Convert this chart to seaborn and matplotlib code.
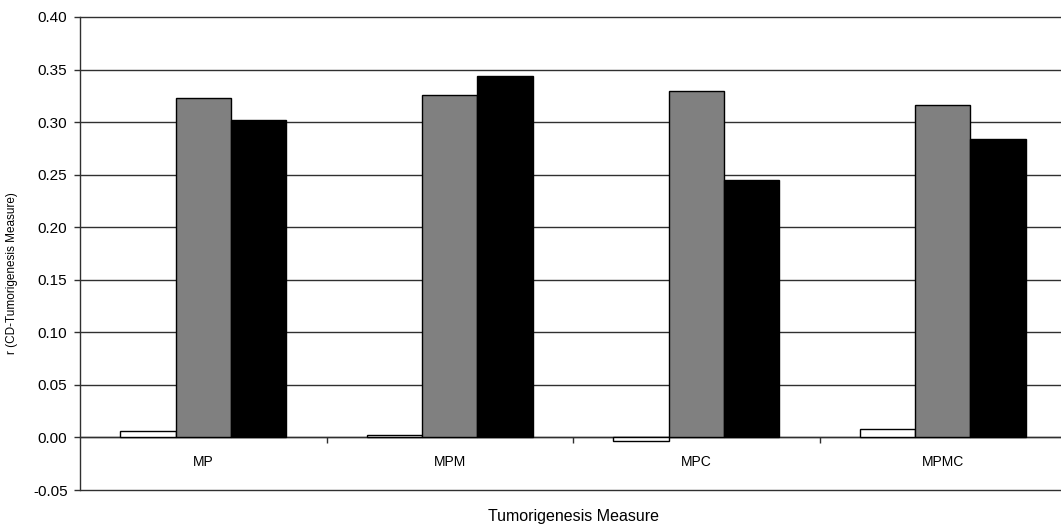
import matplotlib
matplotlib.use("Agg")
import matplotlib.pyplot as plt
import numpy as np
import pandas as pd
import seaborn as sns

# Correlation of CD with each tumorigenesis measure, three series per measure
measures = ["MP", "MPM", "MPC", "MPMC"]
series_names = ["Series 1", "Series 2", "Series 3"]
series_1 = [0.006, 0.002, -0.003, 0.008]
series_2 = [0.323, 0.326, 0.330, 0.316]
series_3 = [0.302, 0.344, 0.245, 0.284]
y_ticks = [-0.05, 0.00, 0.05, 0.10, 0.15, 0.20, 0.25, 0.30, 0.35, 0.40]

df = pd.DataFrame({
    "measure": measures * 3,
    "series": np.repeat(series_names, len(measures)),
    "r": series_1 + series_2 + series_3,
})

sns.set_theme(style="white")
plt.rcParams["font.family"] = ["Liberation Sans", "DejaVu Sans"]
plt.rcParams["text.color"] = "black"
plt.rcParams["xtick.color"] = "#303030"
plt.rcParams["ytick.color"] = "#303030"

W, H = 1061, 527
fig = plt.figure(figsize=(W / 100, H / 100), dpi=100)
ax = fig.add_axes([80 / W, 37 / H, 986 / W, 473 / H])

palette = {"Series 1": "#ffffff", "Series 2": "#808080", "Series 3": "#000000"}
sns.barplot(data=df, x="measure", y="r", hue="series", order=measures,
            hue_order=series_names, palette=palette, width=0.675,
            edgecolor="black", linewidth=1.0, saturation=1, legend=False,
            errorbar=None, zorder=3, ax=ax)

ax.set_ylim(-0.05, 0.40)
ax.set_xlim(-0.5, 3.5)
ax.set_yticks(y_ticks)
ax.set_yticklabels([f"{v:.2f}" for v in y_ticks], fontsize=11)
ax.yaxis.grid(True, color="#303030", linewidth=1.0, zorder=1)
for gl in ax.get_ygridlines():
    gl.set_clip_on(False)
ax.xaxis.grid(False)
ax.set_axisbelow(True)

# Category axis runs along zero, with boundary ticks between categories
ax.spines["bottom"].set_position(("data", 0))
ax.spines["bottom"].set_color("#303030")
ax.spines["bottom"].set_linewidth(1.0)
ax.spines["left"].set_color("#303030")
ax.spines["left"].set_linewidth(1.0)
ax.spines["top"].set_visible(False)
ax.spines["right"].set_visible(False)

ax.set_xticks(range(len(measures)))
ax.set_xticklabels(measures, fontsize=10)
ax.set_xticks([0.5, 1.5, 2.5], minor=True)
ax.tick_params(axis="x", which="major", length=0, pad=13, labelcolor="black")
ax.tick_params(axis="x", which="minor", bottom=True, length=4, width=1,
               direction="out", color="#303030")
ax.tick_params(axis="y", which="major", left=True, length=4, width=1,
               direction="out", color="#303030", pad=5, labelcolor="black")

ax.set_xlabel("")
ax.set_ylabel("")
fig.text(12 / W, 1 - 273 / H, "r (CD-Tumorigenesis Measure)", rotation=90,
         ha="center", va="center", fontsize=8.5)
fig.text(573 / W, 1 - 516 / H, "Tumorigenesis Measure", ha="center",
         va="center", fontsize=11.5)

fig.savefig("out.png", dpi=100, facecolor="white")
